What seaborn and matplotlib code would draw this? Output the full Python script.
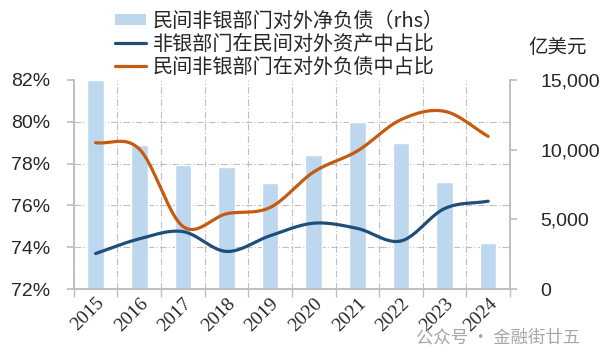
"""
民间非银部门对外负债与占比
"""

import matplotlib
matplotlib.use('Agg')
import matplotlib.pyplot as plt
import seaborn as sns
import numpy as np
import pandas as pd
from matplotlib.patches import Patch
from matplotlib.lines import Line2D

years = ['2015', '2016', '2017', '2018', '2019', '2020', '2021', '2022', '2023', '2024']
net_liab = [15000, 10300, 8870, 8750, 7620, 9590, 11990, 10500, 7670, 3340]      # 亿美元
share_assets = [73.7, 74.4, 74.75, 73.8, 74.55, 75.15, 74.9, 74.3, 75.85, 76.2]  # %
share_liab = [79.0, 78.7, 75.0, 75.6, 75.9, 77.6, 78.6, 80.1, 80.5, 79.3]        # %

name_bar = '民间非银部门对外净负债（rhs）'
name_assets = '非银部门在民间对外资产中占比'
name_liab = '民间非银部门在对外负债中占比'

C_BAR = '#BDD7EE'
C_BLUE = '#1F4E79'
C_ORANGE = '#C55A11'
C_GRID = '#BFBFBF'

CJK = ['Noto Sans CJK SC', 'DejaVu Sans']


def smooth(x, y, n=24):
    """Catmull-Rom curve through the points (like Excel's smoothed line)."""
    x = np.asarray(x, float)
    y = np.asarray(y, float)
    px = np.concatenate([[2 * x[0] - x[1]], x, [2 * x[-1] - x[-2]]])
    py = np.concatenate([[2 * y[0] - y[1]], y, [2 * y[-1] - y[-2]]])
    xs, ys = [], []
    t = np.linspace(0, 1, n, endpoint=False)
    for i in range(1, len(px) - 2):
        for p, out in ((px, xs), (py, ys)):
            p0, p1, p2, p3 = p[i - 1], p[i], p[i + 1], p[i + 2]
            out.extend(0.5 * (2 * p1 + (-p0 + p2) * t
                              + (2 * p0 - 5 * p1 + 4 * p2 - p3) * t ** 2
                              + (-p0 + 3 * p1 - 3 * p2 + p3) * t ** 3))
    xs.append(x[-1])
    ys.append(y[-1])
    return np.array(xs), np.array(ys)


sns.set_theme(style='white')
plt.rcParams['font.family'] = CJK

fig = plt.figure(figsize=(6, 3.6), dpi=100)
ax2 = fig.add_axes([0.123, 0.197, 0.727, 0.581])   # bars, right axis
ax = ax2.twinx()                                     # lines, left axis
ax.yaxis.tick_left()
ax2.yaxis.tick_right()
ax.set_zorder(ax2.get_zorder() + 1)
ax.patch.set_visible(False)

# bars
df_bar = pd.DataFrame({'year': years, 'value': net_liab})
sns.barplot(data=df_bar, x='year', y='value', color=C_BAR, width=0.38,
            saturation=1, ax=ax2, zorder=2)
ax2.set_ylim(0, 15000)
ax2.set_yticks([0, 5000, 10000, 15000])
ax2.set_yticklabels(['0', '5,000', '10,000', '15,000'], family='Liberation Sans', fontsize=14)
# grid follows the left axis (72%..82% mapped onto 0..15000)
ax2.set_yticks(np.linspace(0, 15000, 6)[1:], minor=True)
ax2.set_xticks(np.arange(len(years) + 1) - 0.5, minor=True)
ax2.grid(which='minor', color=C_GRID, linestyle=(0, (6, 2, 1, 2)), linewidth=0.8, zorder=0)
ax2.set_axisbelow(True)
ax2.set_xlim(-0.5, len(years) - 0.5)
ax2.set_xlabel('')
ax2.set_ylabel('')
ax2.tick_params(axis='y', which='major', direction='out', length=5, color=C_GRID,
                pad=17, right=True)
ax2.tick_params(axis='y', which='minor', length=0)
ax2.tick_params(axis='x', which='minor', direction='out', length=6, color=C_GRID, bottom=True)
ax2.tick_params(axis='x', which='major', length=0, pad=4)
ax2.set_xticks(np.arange(len(years)))
ax2.set_xticklabels(years, rotation=45, ha='right', rotation_mode='anchor',
                    family='Liberation Serif', fontsize=14)

# smoothed lines
pos = np.arange(len(years))
for vals, col in ((share_assets, C_BLUE), (share_liab, C_ORANGE)):
    sx, sy = smooth(pos, vals)
    sns.lineplot(x=sx, y=sy, sort=False, estimator=None, color=col, linewidth=2.3, ax=ax)
ax.set_ylim(72, 82)
ax.set_yticks(np.arange(72, 83, 2))
ax.set_yticklabels([f'{v}%' for v in range(72, 83, 2)], family='Liberation Sans', fontsize=14)
ax.tick_params(axis='y', direction='out', length=5, color=C_GRID, pad=12, left=True, right=False)
ax.set_xlim(-0.5, len(years) - 0.5)

for a in (ax, ax2):
    a.spines['top'].set_visible(False)
    for side in ('left', 'right', 'bottom'):
        a.spines[side].set_color(C_GRID)
        a.spines[side].set_linewidth(1.2)

# legend
handles = [Patch(facecolor=C_BAR, edgecolor='none'),
           Line2D([], [], color=C_BLUE, linewidth=2.3),
           Line2D([], [], color=C_ORANGE, linewidth=2.3)]
fig.legend(handles, [name_bar, name_assets, name_liab], loc='upper left',
           bbox_to_anchor=(0.192, 0.97), frameon=False,
           handlelength=1.55, handleheight=0.5, handletextpad=0.3,
           labelspacing=0.1, borderaxespad=0, borderpad=0,
           prop={'family': CJK, 'size': 14.5})

fig.text(0.93, 0.868, '亿美元', ha='center', va='center', fontsize=14, family=CJK)
fig.text(0.967, 0.063, '公众号 · 金融街廿五', ha='right', va='center', fontsize=12.5,
         color='#A6A6A6', family=CJK)

fig.savefig('out.png', dpi=100)
